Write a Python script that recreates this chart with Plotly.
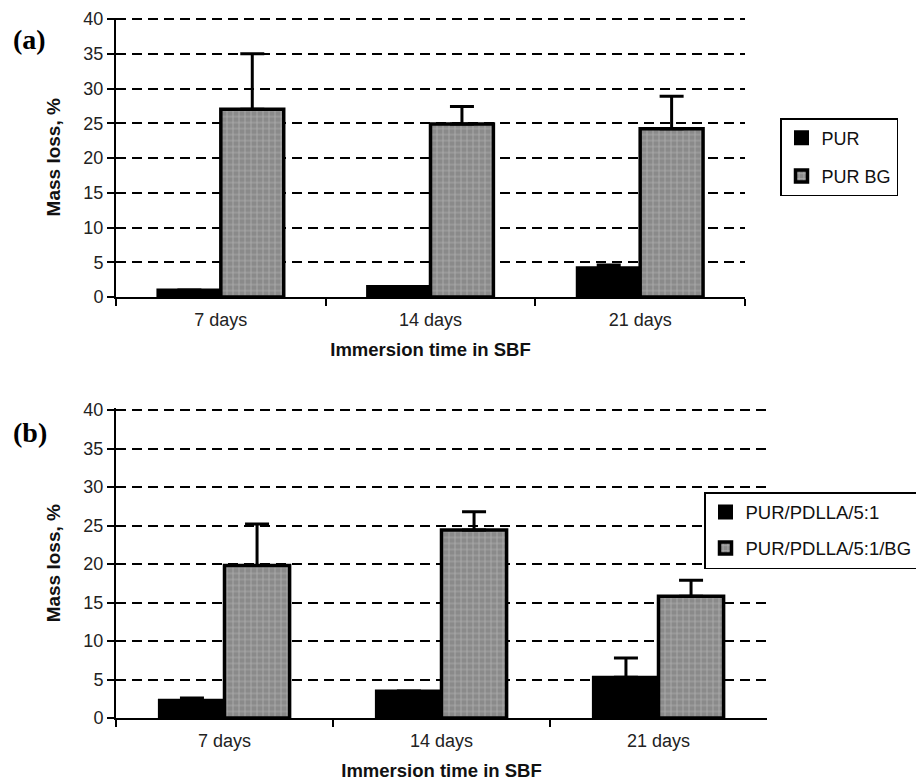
import plotly.graph_objects as go

categories = ["7 days", "14 days", "21 days"]

# Panel (a)
a_names = ["PUR", "PUR BG"]
a_pur = [1.0, 1.5, 4.2]
a_pur_err = [0.0, 0.0, 0.4]
a_purbg = [27.0, 24.9, 24.2]
a_purbg_err = [8.0, 2.5, 4.7]

# Panel (b)
b_names = ["PUR/PDLLA/5:1", "PUR/PDLLA/5:1/BG"]
b_pdlla = [2.3, 3.5, 5.3]
b_pdlla_err = [0.3, 0.0, 2.5]
b_pdllabg = [19.8, 24.4, 15.8]
b_pdllabg_err = [5.4, 2.4, 2.1]

y_ticks = [0, 5, 10, 15, 20, 25, 30, 35, 40]
y_max = 40.2

FONT = "Liberation Sans, Arial, sans-serif"
W, H = 924, 783
OFF = 8  # page body margin

def px_x(p):
    return (p - OFF) / W

def px_y(p):
    return 1 - (p - OFF) / H

def y_dom(px_zero, px_forty):
    per = (px_zero - px_forty) / 40.0
    top = px_zero - per * y_max
    return [px_y(px_zero), px_y(top)]

black_marker = dict(color="black", line=dict(color="black", width=3))
grey_marker = dict(
    color="#9a9a9a",
    line=dict(color="black", width=3.5),
    pattern=dict(shape="+", fgcolor="#d4d4d4", bgcolor="#8a8a8a", size=6, solidity=0.25),
)

def err(arr, color="black"):
    return dict(type="data", array=arr, arrayminus=[0] * len(arr), symmetric=False,
                color=color, thickness=3, width=12, visible=True)

fig = go.Figure()

fig.add_trace(go.Bar(x=categories, y=a_pur, name=a_names[0], marker=black_marker,
                     error_y=err(a_pur_err), xaxis="x", yaxis="y",
                     legend="legend", legendgroup="a1"))
fig.add_trace(go.Bar(x=categories, y=a_purbg, name=a_names[1], marker=grey_marker,
                     error_y=err(a_purbg_err), xaxis="x", yaxis="y",
                     legend="legend", legendgroup="a2"))
fig.add_trace(go.Bar(x=categories, y=b_pdlla, name=b_names[0], marker=black_marker,
                     error_y=err(b_pdlla_err), xaxis="x2", yaxis="y2",
                     legend="legend2", legendgroup="b1"))
fig.add_trace(go.Bar(x=categories, y=b_pdllabg, name=b_names[1], marker=grey_marker,
                     error_y=err(b_pdllabg_err), xaxis="x2", yaxis="y2",
                     legend="legend2", legendgroup="b2"))

xax = dict(
    type="category", showline=True, linecolor="black", linewidth=2,
    ticks="outside", tickson="boundaries", ticklen=7, tickwidth=2, tickcolor="black",
    tickfont=dict(family=FONT, size=18, color="#222"),
    ticklabelstandoff=5, ticklabeloverflow="allow",
    showgrid=False, zeroline=False, automargin=False,
    title=dict(text="<b>Immersion time in SBF</b>", font=dict(family=FONT, size=18.5, color="#111"), standoff=14),
)
yax = dict(
    range=[0, y_max], tickvals=y_ticks, showline=True, linecolor="black", linewidth=2,
    ticks="outside", ticklen=7, tickwidth=2, tickcolor="black",
    tickfont=dict(family=FONT, size=18, color="#222"),
    ticklabeloverflow="allow",
    showgrid=True, gridcolor="black", gridwidth=2, griddash="10px,6px",
    zeroline=False, automargin=False,
    title=dict(text="<b>Mass loss, %</b>", font=dict(family=FONT, size=19, color="#111"), standoff=18),
)

fig.update_layout(
    width=W, height=H,
    margin=dict(l=0, r=0, t=0, b=0, autoexpand=False),
    paper_bgcolor="white", plot_bgcolor="white",
    barmode="group", bargap=0.4, bargroupgap=0.0,
    xaxis=dict(xax, domain=[px_x(116), px_x(745)], anchor="y"),
    yaxis=dict(yax, domain=y_dom(297, 19), anchor="x"),
    xaxis2=dict(xax, domain=[px_x(116), px_x(767)], anchor="y2"),
    yaxis2=dict(yax, domain=y_dom(718, 410), anchor="x2"),
    legend=dict(x=px_x(780), y=px_y(118), xanchor="left", yanchor="top",
                bgcolor="white", bordercolor="black", borderwidth=1.5,
                font=dict(family=FONT, size=18, color="#111"),
                tracegroupgap=12, itemwidth=30),
    legend2=dict(x=px_x(704), y=px_y(492), xanchor="left", yanchor="top",
                 bgcolor="white", bordercolor="black", borderwidth=1.5,
                 font=dict(family=FONT, size=18.5, color="#111"),
                 tracegroupgap=9, itemwidth=30),
    annotations=[
        dict(text="<b>(a)</b>", x=px_x(11), y=px_y(40), xref="paper", yref="paper",
             xanchor="left", yanchor="middle", showarrow=False,
             font=dict(family="Liberation Serif, Times New Roman, serif", size=28, color="black")),
        dict(text="<b>(b)</b>", x=px_x(11), y=px_y(432), xref="paper", yref="paper",
             xanchor="left", yanchor="middle", showarrow=False,
             font=dict(family="Liberation Serif, Times New Roman, serif", size=28, color="black")),
    ],
)

fig.write_html("out.html")
